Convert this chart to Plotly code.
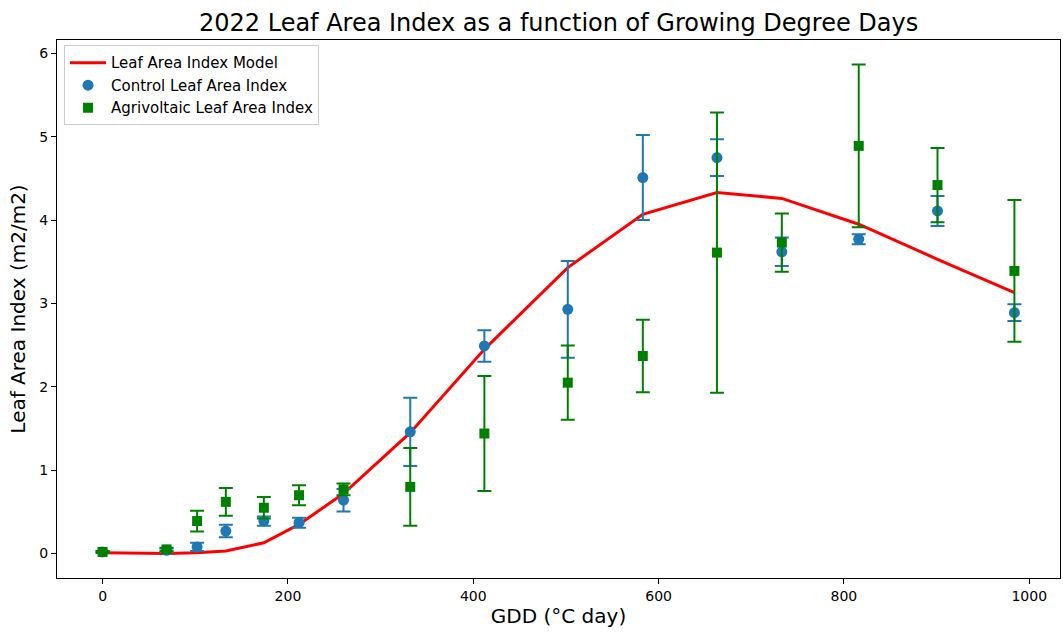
import plotly.graph_objects as go

# Growing degree days at each sampling date
gdd = [0, 69, 102, 133, 174, 212, 260, 332, 412, 502, 583, 663, 733, 816, 901, 984]

# Fitted LAI model
lai_model = [0.01, 0.00, 0.01, 0.03, 0.13, 0.35, 0.72, 1.45, 2.45, 3.43,
             4.07, 4.33, 4.26, 3.95, 3.53, 3.13]

# Control plot LAI and standard deviation
lai_control = [0.02, 0.04, 0.08, 0.27, 0.39, 0.37, 0.64, 1.46, 2.49, 2.93,
               4.51, 4.75, 3.62, 3.77, 4.11, 2.89]
err_control = [0.01, 0.02, 0.05, 0.075, 0.055, 0.06, 0.135, 0.41, 0.19, 0.58,
               0.51, 0.22, 0.17, 0.06, 0.18, 0.10]

# Agrivoltaic plot LAI and standard deviation
lai_agri = [0.02, 0.05, 0.39, 0.62, 0.55, 0.70, 0.77, 0.80, 1.44, 2.05,
            2.37, 3.61, 3.73, 4.89, 4.42, 3.39]
err_agri = [0.01, 0.02, 0.125, 0.165, 0.13, 0.12, 0.07, 0.465, 0.69, 0.445,
            0.435, 1.68, 0.35, 0.975, 0.445, 0.85]

BLUE = "#1f77b4"
GREEN = "#008000"
RED = "#ff0000"

fig = go.Figure()

fig.add_trace(go.Scatter(
    x=gdd, y=lai_model, mode="lines", name="Leaf Area Index Model",
    line=dict(color=RED, width=3),
))

fig.add_trace(go.Scatter(
    x=gdd, y=lai_control, mode="markers", name="Control Leaf Area Index",
    marker=dict(color=BLUE, symbol="circle", size=11),
    error_y=dict(type="data", array=err_control, visible=True,
                 color=BLUE, thickness=2, width=7),
))

fig.add_trace(go.Scatter(
    x=gdd, y=lai_agri, mode="markers", name="Agrivoltaic Leaf Area Index",
    marker=dict(color=GREEN, symbol="square", size=10),
    error_y=dict(type="data", array=err_agri, visible=True,
                 color=GREEN, thickness=2, width=7),
))

axis_common = dict(
    showgrid=False, zeroline=False,
    showline=True, linecolor="black", linewidth=1, mirror=True,
    ticks="outside", ticklen=5, tickcolor="black", tickwidth=1,
    tickfont=dict(family="DejaVu Sans", size=14, color="black"),
)

fig.update_layout(
    width=1063, height=640,
    margin=dict(l=57, r=3, t=40, b=62),
    paper_bgcolor="white", plot_bgcolor="white",
    font=dict(family="DejaVu Sans", color="black"),
    title=dict(
        text="2022 Leaf Area Index as a function of Growing Degree Days",
        x=0.5255, xanchor="center", y=0.965, yanchor="middle",
        font=dict(family="DejaVu Sans", size=24, color="black"),
    ),
    xaxis=dict(
        range=[-49.2, 1033.2], tickmode="array",
        tickvals=[0, 200, 400, 600, 800, 1000],
        title=dict(text="GDD (°C day)", font=dict(size=20), standoff=6),
        **axis_common,
    ),
    yaxis=dict(
        range=[-0.293, 6.16], tickmode="array",
        tickvals=[0, 1, 2, 3, 4, 5, 6],
        title=dict(text="Leaf Area Index (m2/m2)", font=dict(size=20), standoff=8),
        **axis_common,
    ),
    legend=dict(
        x=0.007, y=0.99, xanchor="left", yanchor="top",
        bgcolor="rgba(255,255,255,0.8)", bordercolor="#cccccc", borderwidth=1,
        font=dict(family="DejaVu Sans", size=15, color="black"),
        tracegroupgap=0, itemwidth=36,
    ),
    showlegend=True,
)

fig.write_html("out.html")
